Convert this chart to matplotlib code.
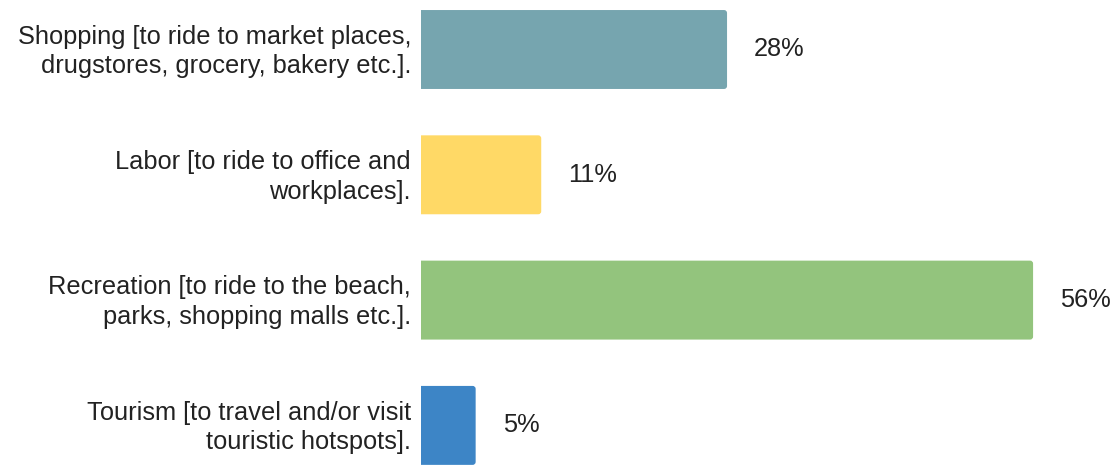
import matplotlib
matplotlib.use("Agg")
import matplotlib.pyplot as plt
from matplotlib.patches import PathPatch
from matplotlib.path import Path

categories = [
    "Shopping [to ride to market places,\ndrugstores, grocery, bakery etc.].",
    "Labor [to ride to office and\nworkplaces].",
    "Recreation [to ride to the beach,\nparks, shopping malls etc.].",
    "Tourism [to travel and/or visit\ntouristic hotspots].",
]
values = [28, 11, 56, 5]
colors = ["#76a5af", "#ffd966", "#93c47d", "#3d85c6"]

plt.rcParams["font.family"] = ["Liberation Sans", "DejaVu Sans"]

W, H, DPI = 1118, 465, 100
fig = plt.figure(figsize=(W / DPI, H / DPI), dpi=DPI)
ax_left = 421
ax = fig.add_axes([ax_left / W, 0, (W - ax_left) / W, 1])

px_per_unit_x = 10.93
px_per_cat = 125.3
xmax = (W - ax_left) / px_per_unit_x
ax.set_xlim(0, xmax)
ytop = -49.5 / px_per_cat
ybot = (H - 49.5) / px_per_cat
ax.set_ylim(ybot, ytop)

bar_h = 0.63
r_px = 3.0
rx = r_px / px_per_unit_x
ry = r_px / px_per_cat
text_color = "#222222"
fs = 18.3


def bar_path(v, y0, h):
    """Bar outline with square left corners and rounded right corners."""
    y1 = y0 + h
    verts = [
        (0, y0), (v - rx, y0),
        (v, y0), (v, y0 + ry),
        (v, y1 - ry),
        (v, y1), (v - rx, y1),
        (0, y1), (0, y0),
    ]
    codes = [
        Path.MOVETO, Path.LINETO,
        Path.CURVE3, Path.CURVE3,
        Path.LINETO,
        Path.CURVE3, Path.CURVE3,
        Path.LINETO, Path.CLOSEPOLY,
    ]
    return Path(verts, codes)


for i, (v, c) in enumerate(zip(values, colors)):
    y0 = i - bar_h / 2
    ax.add_patch(PathPatch(bar_path(v, y0, bar_h), facecolor=c, edgecolor="none"))
    ax.text(v + 27 / px_per_unit_x, i, f"{v}%", va="center", ha="left",
            fontsize=fs, color=text_color)
    ax.text(-10 / px_per_unit_x, i + 2 / px_per_cat, categories[i],
            va="center", ha="right", fontsize=fs, color=text_color,
            linespacing=1.3, clip_on=False)

ax.set_axis_off()
fig.savefig("out.png", dpi=DPI, facecolor="white")
